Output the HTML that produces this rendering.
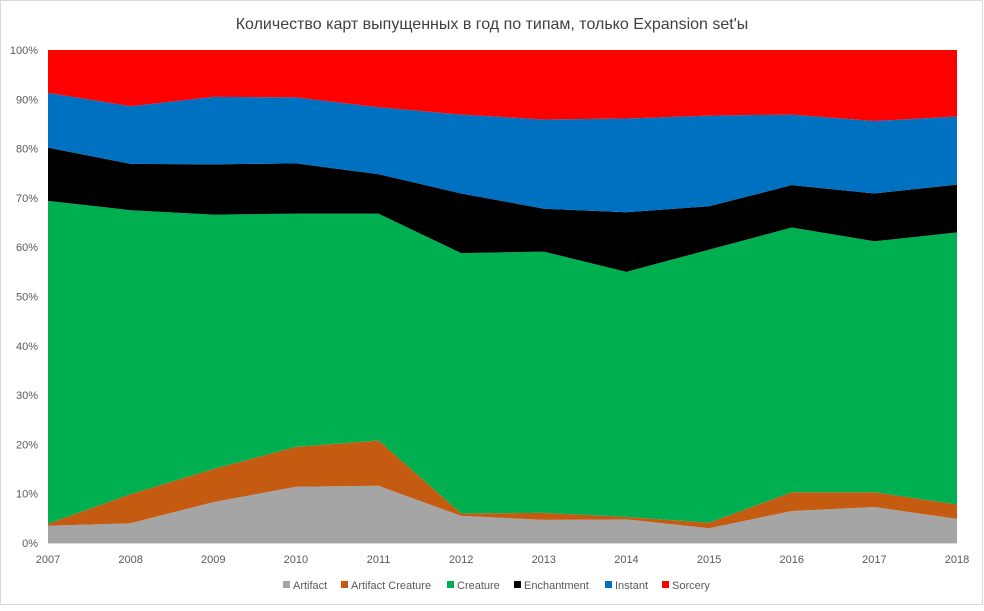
<!DOCTYPE html>
<html><head><meta charset="utf-8">
<style>
body{margin:0;background:#fff;}
svg text{font-family:"Liberation Sans","DejaVu Sans",sans-serif;fill:#595959;}
</style></head>
<body>
<svg id="c" width="984" height="606" xmlns="http://www.w3.org/2000/svg">
<rect x="0.5" y="0.5" width="982" height="604" fill="#fff" stroke="#d9d9d9"/>
<text x="492" y="29" font-size="16" text-anchor="middle" style="fill:#404040">Количество карт выпущенных в год по типам, только Expansion set'ы</text>
<g id="areas"></g>
<g id="lab" font-size="11"></g>
<g font-size="11">
<rect x="283" y="581" width="7" height="7" fill="#a5a5a5"/><text x="293" y="589">Artifact</text>
<rect x="341" y="581" width="7" height="7" fill="#c55a11"/><text x="351" y="589">Artifact Creature</text>
<rect x="447" y="581" width="7" height="7" fill="#00b050"/><text x="457" y="589">Creature</text>
<rect x="514" y="581" width="7" height="7" fill="#000"/><text x="524" y="589">Enchantment</text>
<rect x="605" y="581" width="7" height="7" fill="#0070c0"/><text x="615" y="589">Instant</text>
<rect x="662" y="581" width="7" height="7" fill="#ff0000"/><text x="672" y="589">Sorcery</text>
</g>
</svg>
<script>
var L=[
[0,0,0,0,0,0,0,0,0,0,0,0],
[3.5,4,8.3,11.4,11.6,5.5,4.7,4.8,3,6.5,7.3,4.9],
[3.9,9.9,15,19.5,20.8,6,6.1,5.3,4.1,10.3,10.3,7.8],
[69.4,67.5,66.6,66.8,66.8,58.8,59.1,55,59.5,64,61.2,63],
[80.2,76.9,76.8,77,74.8,70.9,67.8,67.1,68.3,72.6,70.9,72.7],
[91.3,88.6,90.5,90.4,88.4,86.9,85.9,86.1,86.7,86.9,85.6,86.5],
[100,100,100,100,100,100,100,100,100,100,100,100]];
var col=["#a5a5a5","#c55a11","#00b050","#000000","#0070c0","#ff0000"];
function X(i){return 48+i*(909/11);}function Y(p){return 543-p*4.93;}
var g=document.getElementById('areas'),h='';
for(var k=0;k<6;k++){var pts=[];for(var i=0;i<12;i++)pts.push(X(i)+','+Y(L[k+1][i]));for(var i=11;i>=0;i--)pts.push(X(i)+','+Y(L[k][i]));h+='<polygon fill="'+col[k]+'" points="'+pts.join(' ')+'"/>';}
h+='<line x1="48" y1="543.5" x2="957" y2="543.5" stroke="#d9d9d9"/>';
g.innerHTML=h;
var t='';for(var j=0;j<=10;j++)t+='<text x="38" y="'+(Y(j*10)+4)+'" text-anchor="end">'+(j*10)+'%</text>';
for(var i=0;i<12;i++)t+='<text x="'+X(i)+'" y="563" text-anchor="middle">'+(2007+i)+'</text>';
document.getElementById('lab').innerHTML=t;
</script>
</body></html>
